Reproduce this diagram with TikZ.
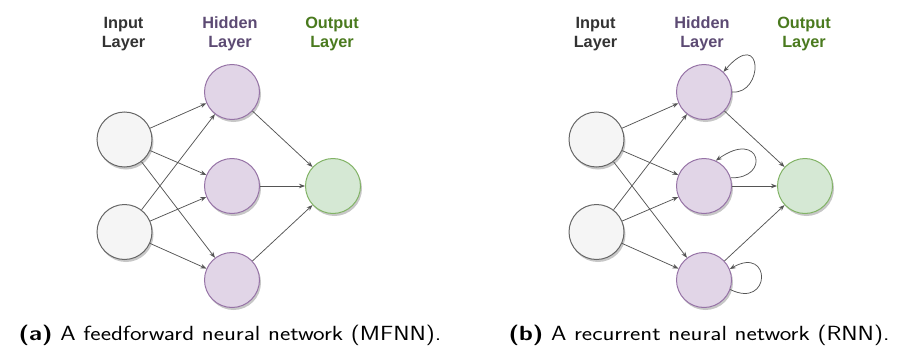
\documentclass[tikz,border=0pt]{standalone}
\usepackage{fontspec}
\newfontfamily\lblfont{Liberation Sans}
\usetikzlibrary{arrows.meta,shadows}
\definecolor{inFill}{HTML}{F5F5F5}
\definecolor{inLine}{HTML}{666666}
\definecolor{hidFill}{HTML}{E1D5E7}
\definecolor{hidLine}{HTML}{9673A6}
\definecolor{outFill}{HTML}{D5E8D4}
\definecolor{outLine}{HTML}{82B366}
\definecolor{inText}{HTML}{333333}
\definecolor{hidText}{HTML}{5C4A73}
\definecolor{outText}{HTML}{4A7A1E}
\definecolor{edgeCol}{HTML}{555555}
\tikzset{
  neuron/.style={circle, minimum size=55pt, inner sep=0pt, line width=1pt,
    drop shadow={shadow xshift=1.5pt, shadow yshift=-2.5pt, opacity=0.22, fill=black}},
  inneuron/.style={neuron, draw=inLine, fill=inFill},
  hidneuron/.style={neuron, draw=hidLine, fill=hidFill},
  outneuron/.style={neuron, draw=outLine, fill=outFill},
  edge/.style={draw=edgeCol, line width=0.75pt, -{Stealth[length=6pt,width=4.5pt]}},
  lbl/.style={align=center, font=\lblfont\bfseries\fontsize{16.3}{19.5}\selectfont},
  captext/.style={anchor=base, font=\sffamily\fontsize{20.5}{24}\selectfont}
}
\begin{document}
\begin{tikzpicture}[x=1pt,y=1pt]
\useasboundingbox (0,0) rectangle (905,-351);
\foreach \s/\dx in {a/0,b/472}{
  \node[lbl, text=inText]  (li\s) at (123.5+\dx,-34) {Input\\Layer};
  \node[lbl, text=hidText] (lh\s) at (230+\dx,-34) {Hidden\\Layer};
  \node[lbl, text=outText] (lo\s) at (332+\dx,-34) {Output\\Layer};
  \node[inneuron]  (i1\s) at (124.5+\dx,-139.5) {};
  \node[inneuron]  (i2\s) at (124.5+\dx,-232) {};
  \node[hidneuron] (h1\s) at (232+\dx,-92) {};
  \node[hidneuron] (h2\s) at (232+\dx,-186) {};
  \node[hidneuron] (h3\s) at (232+\dx,-280) {};
  \node[outneuron] (o\s)  at (333+\dx,-186) {};
  \foreach \i in {1,2}{
    \foreach \h in {1,2,3}{
      \draw[edge] (i\i\s) -- (h\h\s);
    }
  }
  \foreach \h in {1,2,3}{
    \draw[edge] (h\h\s) -- (o\s);
  }
}
\draw[edge] (h1b.0) .. controls +(32,-3) and +(40,46) .. (h1b.46);
\draw[edge] (h2b.17) .. controls +(40,-1) and +(45,32) .. (h2b.65);
\draw[edge] (h3b.-20) .. controls +(41,-20) and +(42,24) .. (h3b.23);
\node[captext] (capa) at (230,-340) {\scalebox{1.2}[1]{\textbf{(a)} A feedforward neural network (MFNN).}};
\node[captext] (capb) at (699,-340) {\scalebox{1.2}[1]{\textbf{(b)} A recurrent neural network (RNN).}};
\end{tikzpicture}
\end{document}
